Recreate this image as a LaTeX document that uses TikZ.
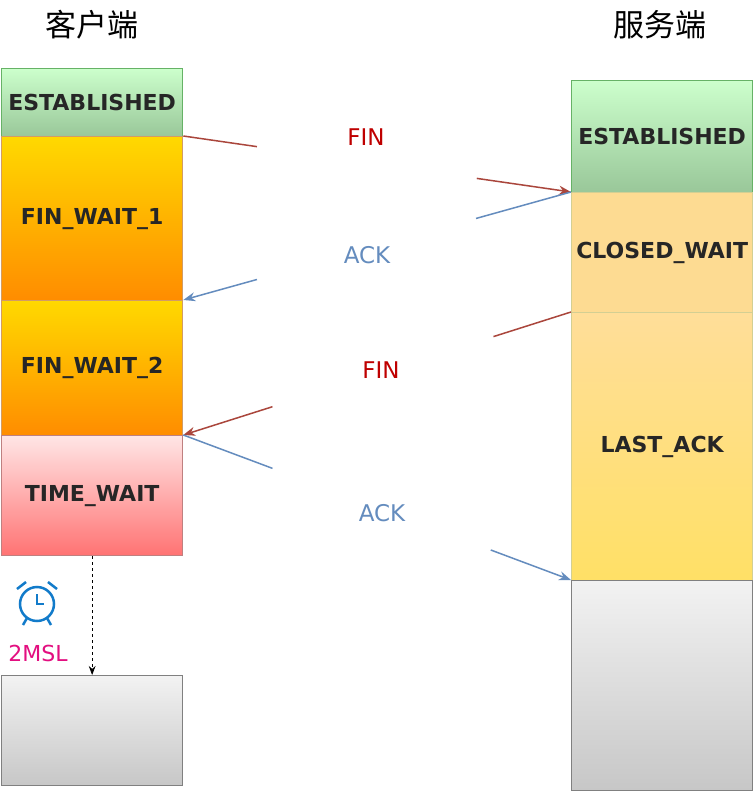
\documentclass[tikz,border=0pt]{standalone}
\usepackage{fontspec}
\setmainfont{DejaVu Sans}
\newfontfamily\cjk{Noto Sans CJK SC}
\usetikzlibrary{calc,arrows.meta}
\definecolor{ab}{RGB}{100,140,190}
\definecolor{ar}{RGB}{170,70,60}
\begin{document}
\begin{tikzpicture}[x=1pt,y=-1pt,
 st/.style={draw=#1,line width=1.3pt,minimum width=181pt,anchor=north west,inner sep=0pt,font=\bfseries\fontsize{22}{22}\selectfont,text=black!85},
 ln/.style={line width=1.5pt},
 lab/.style={font=\fontsize{23}{23}\selectfont}]
\useasboundingbox (0,0) rectangle (753,794);
\fill[white] (0,0) rectangle (753,794);
\node[font=\cjk\fontsize{31}{31}\selectfont] (tc) at (92,25) {客户端};
\node[font=\cjk\fontsize{31}{31}\selectfont] (ts) at (660,25) {服务端};
% left
\node[st=green!50!black!60,top color=green!20!white,bottom color=green!45!black!40!white,minimum height=68pt] (le) at (1,68) {ESTABLISHED};
\node[st=orange!70!black!60,top color=yellow!70!orange,bottom color=orange!90!yellow,minimum height=164pt] (f1) at (1,136) {FIN\_WAIT\_1};
\node[st=orange!70!black!60,top color=yellow!70!orange,bottom color=orange!90!yellow,minimum height=135pt] (f2) at (1,300) {FIN\_WAIT\_2};
\node[st=red!50!black!50,top color=red!10!white,bottom color=red!55!white,minimum height=120pt] (tw) at (1,435) {TIME\_WAIT};
\node[st=black!50,top color=black!5,bottom color=black!22,minimum height=110pt] (lc) at (1,675) {};
% right
\node[st=green!50!black!60,top color=green!20!white,bottom color=green!45!black!40!white,minimum height=112pt] (re) at (571,80) {ESTABLISHED};
\node[st=yellow!60!black!50,fill=yellow!35!orange!40!white,minimum height=120pt] (cw) at (571,192) {CLOSED\_WAIT};
\node[st=yellow!60!black!50,top color=yellow!35!orange!40!white,bottom color=yellow!60!orange!60!white,minimum height=268pt] (la) at (571,312) {LAST\_ACK};
\node[st=black!50,top color=black!5,bottom color=black!22,minimum height=210pt] (rc) at (571,580) {};
% arrows
\coordinate (a1) at (f1.north east); \coordinate (b1) at (cw.north west);
\draw[ln,ar] (a1) -- ($(a1)!0.19!(b1)$);
\draw[ln,ar,-{Stealth[length=12pt]}] ($(a1)!0.757!(b1)$) -- (b1);
\coordinate (b2) at (f2.north east);
\draw[ln,ab] (b1) -- ($(b1)!0.245!(b2)$);
\draw[ln,ab,-{Stealth[length=12pt]}] ($(b1)!0.81!(b2)$) -- (b2);
\coordinate (a3) at (la.north west); \coordinate (b3) at (tw.north east);
\draw[ln,ar] (a3) -- ($(a3)!0.2!(b3)$);
\draw[ln,ar,-{Stealth[length=12pt]}] ($(a3)!0.77!(b3)$) -- (b3);
\coordinate (b4) at (rc.north west);
\draw[ln,ab] (b3) -- ($(b3)!0.23!(b4)$);
\draw[ln,ab,-{Stealth[length=12pt]}] ($(b3)!0.793!(b4)$) -- (b4);
\node[lab,text=red!75!black] (l1) at (366,137) {FIN};
\node[lab,text=ab] (l2) at (367,255) {ACK};
\node[lab,text=red!75!black] (l3) at (381,370) {FIN};
\node[lab,text=ab] (l4) at (382,513) {ACK};
% clock
\begin{scope}[shift={(37,604)},draw=cyan!60!blue,line width=2.5pt]
\draw (0,0) circle (17);
\draw (0,-10) -- (0,0) -- (7,0);
\draw (-20,-15) -- (-11,-22);
\draw (20,-15) -- (11,-22);
\draw (-10,14) -- (-14,21); \draw (10,14) -- (14,21);
\end{scope}
\node[font=\fontsize{22}{22}\selectfont,text=magenta!80!purple] (ms) at (38,653) {2MSL};
\draw[dashed,line width=0.8pt,-{Stealth[length=9pt]}] (tw.south) -- (lc.north);
\end{tikzpicture}
\end{document}
